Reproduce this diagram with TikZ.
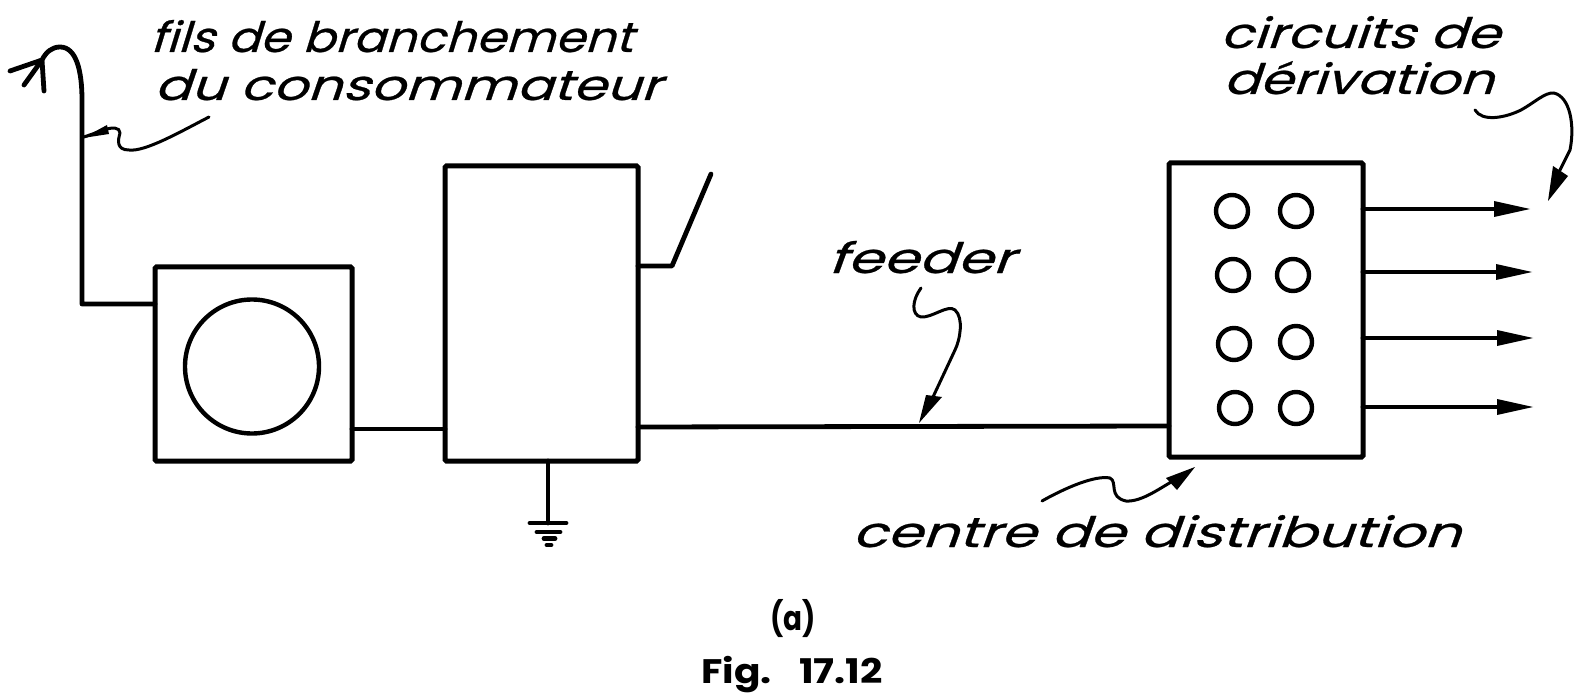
\documentclass[tikz,border=0pt]{standalone}
\usepackage{fontspec}
\setmainfont{Poppins}
\newfontfamily\handf[FakeSlant=0.3,FakeStretch=1.12,FakeBold=0.6]{Poppins}
\newfontfamily\capf{Poppins}
\tikzset{
  thick line/.style={line width=4.8pt,line cap=round,line join=round},
  leader/.style={line width=3pt,line cap=round,line join=round},
  boxn/.style={draw,line width=5pt,rounded corners=1.5pt,inner sep=0pt},
  ring/.style={draw,line width=4.4pt,circle,inner sep=0pt},
  hand/.style={anchor=base west,inner sep=0pt,font=\handf\fontsize{42}{42}\selectfont},
  captxt/.style={anchor=base,inner sep=0pt,font=\capf\bfseries\fontsize{34}{34}\selectfont},
}
\newcommand{\wide}[2]{\scalebox{#1}[1]{#2}}
\begin{document}
\begin{tikzpicture}[x=1pt,y=-1pt]
\useasboundingbox (0,0) rectangle (1575,695);
% boxes
\node[boxn,minimum width=197pt,minimum height=194pt] (meter) at (253.5,364) {};
\node[boxn,minimum width=193pt,minimum height=295pt] (panel) at (541.5,313.5) {};
\node[boxn,minimum width=194pt,minimum height=294pt] (dist) at (1266,310) {};
\node[ring,minimum size=134pt] (dial) at (252,366.5) {};
% breakers
\foreach \n/\x/\y in {a/1232/211,b/1296/211,c/1233/275,d/1293/275,e/1234/344,f/1296/342,g/1235/408,h/1296/408}
  \node[ring,minimum size=32pt] (c\n) at (\x,\y) {};
% service wires
\coordinate (svcorner) at (82,304);
\coordinate (svm) at (155,304);
\draw[thick line] (svm) -- (svcorner) -- (82,100) .. controls (82,70) and (76,47) .. (60,47) .. controls (52,47) and (46,52) .. (42,60);
\draw[thick line] (10,71) -- (42,60) -- (24,85);
\draw[thick line] (42,60) -- (44,91);
% meter to panel
\coordinate (mp1) at (352,429);
\coordinate (mp2) at (445,429);
\draw[thick line] (mp1) -- (mp2);
% switch
\coordinate (s0) at (638,266);
\coordinate (s1) at (672,266);
\coordinate (s2) at (711,174);
\draw[thick line] (s0) -- (s1) -- (s2);
% feeder
\coordinate (f0) at (638,427);
\coordinate (f1) at (1169,426);
\draw[thick line] (f0) -- (f1);
% ground
\coordinate (g0) at (548,461);
\coordinate (g1) at (548,523);
\draw[thick line] (g0) -- (g1);
\draw[thick line] (530,523) -- (566,523);
\draw[thick line] (537,532) -- (560,532);
\draw[thick line] (544,538.5) -- (555,538.5);
\draw[thick line] (547,545) -- (551,545);
% outgoing circuits
\foreach \y/\t in {209/1530,272/1532,338/1533,407/1533}{
  \draw[thick line] (1363,\y) -- (\t-30,\y);
  \fill (\t,\y) -- (\t-36,\y-8) -- (\t-36,\y+8) -- cycle;
}
% leaders
\draw[leader] (209,117) .. controls (180,132) and (145,152) .. (129,150) .. controls (116,150) and (118,140) .. (120,133) .. controls (120,127) and (112,127) .. (104,130) -- (84,137);
\fill (83,138) -- (107,125) -- (109,134) -- cycle;
\draw[leader] (1475,110) .. controls (1482,122) and (1505,118) .. (1521,110) .. controls (1534,103) and (1545,92) .. (1554,93) .. controls (1570,97) and (1575,125) .. (1570,150) -- (1555,180);
\fill (1548,201) -- (1553,166) -- (1568,176) -- cycle;
\draw[leader] (1042,501) .. controls (1065,488) and (1095,475) .. (1110,478) .. controls (1118,482) and (1108,497) .. (1126,501) .. controls (1142,502) and (1160,488) .. (1178,478);
\fill (1195,467) -- (1166,478) -- (1177,490) -- cycle;
\draw[leader] (921,288) .. controls (912,300) and (911,315) .. (921,317) .. controls (932,318) and (948,304) .. (955,310) .. controls (964,318) and (960,340) .. (955,350) -- (933,397);
\fill (919,423) -- (926,395) -- (942,397) -- cycle;
% labels
\node[hand] (t1) at (150,52) {\wide{1.02}{fils de branchement}};
\node[hand] (t2) at (154,100) {\wide{1.15}{du consommateur}};
\node[hand] (t3) at (1220,48) {\wide{1.15}{circuits de}};
\node[hand] (t4) at (1223,94) {\wide{1.14}{dérivation}};
\node[hand] (t5) at (828,273) {\wide{1.22}{feeder}};
\node[hand] (t6) at (852,547) {\wide{1.21}{centre de distribution}};
\node[captxt] (ca) at (793,630) {\wide{0.82}{(a)}};
\node[captxt] (cf) at (792,683) {\wide{1.15}{Fig.\hspace{24pt}17.12}};
\end{tikzpicture}
\end{document}
